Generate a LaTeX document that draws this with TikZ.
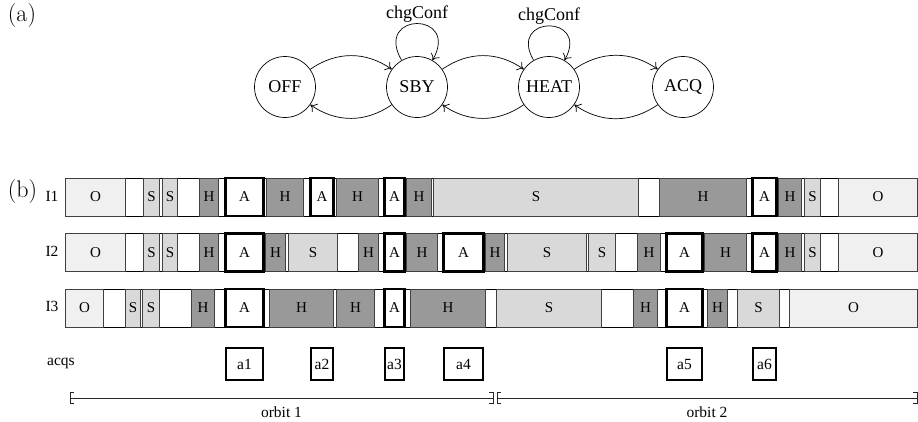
\documentclass[tikz,border=0pt]{standalone}
\usepackage{fontspec}
\newfontfamily\tms{Liberation Serif}
\usetikzlibrary{arrows.meta}

\definecolor{offfill}{gray}{0.94}
\definecolor{sbyfill}{gray}{0.85}
\definecolor{heatfill}{gray}{0.60}
\definecolor{edgegray}{gray}{0.25}

\tikzset{
  state/.style={circle, draw, line width=0.7pt, minimum size=61pt, inner sep=0pt,
    font=\tms\fontsize{18}{20}\selectfont},
  trans/.style={-{To[length=6pt,width=10pt]}, line width=0.7pt},
  looplabel/.style={font=\tms\fontsize{18}{20}\selectfont, inner sep=1pt},
  partlabel/.style={font=\fontsize{24}{26}\selectfont, inner sep=0pt},
  smalltext/.style={font=\tms\fontsize{15.5}{17}\selectfont, inner sep=1pt},
  rowbox/.style={draw=black, fill=white, line width=0.8pt, minimum width=851pt,
    minimum height=38pt, inner sep=0pt},
  segbase/.style={draw=edgegray, line width=0.8pt, inner sep=0.5pt, minimum height=38pt,
    font=\tms\fontsize{15}{17}\selectfont},
  segO/.style={segbase, fill=offfill},
  segS/.style={segbase, fill=sbyfill},
  segH/.style={segbase, fill=heatfill},
  segA/.style={segbase, fill=white, draw=black, line width=2.2pt},
  orbitline/.style={line width=0.8pt, draw=black!85},
}

% one instrument timeline: background bar plus its mode segments
\newcommand\segrow[3]{%
  \node[rowbox] (#1) at (491.5,#2) {};
  \foreach \a/\b/\t [count=\i] in {#3} {
    \pgfmathsetmacro\w{\b-\a}
    \node[seg\t, minimum width=\w pt, text width=\w pt, align=center] (#1-\i) at ({(\a+\b)/2},#2) {\t};
  }
}

\begin{document}
\begin{tikzpicture}[x=1pt,y=-1pt]
\useasboundingbox (0,0) rectangle (918,421);

% (a) mode automaton
\node[partlabel] (pa) at (22,16) {(a)};
\node[state] (off)  at (285,87) {OFF};
\node[state] (sby)  at (417,87) {SBY};
\node[state] (heat) at (549,87) {HEAT};
\node[state] (acq)  at (683,87) {ACQ};

\draw[trans] (off)  to[bend left=35] (sby);
\draw[trans] (sby)  to[bend left=35] (off);
\draw[trans] (sby)  to[bend left=35] (heat);
\draw[trans] (heat) to[bend left=35] (sby);
\draw[trans] (heat) to[bend left=35] (acq);
\draw[trans] (acq)  to[bend left=35] (heat);
\draw[trans] (sby)  to[out=120,in=60,looseness=4.7] node[looplabel, above] {chgConf} (sby);
\draw[trans] (heat) to[out=120,in=60,looseness=4.4] node[looplabel, above] {chgConf} (heat);

% (b) timelines
\node[partlabel] (pb) at (22.5,192) {(b)};
\node[smalltext] (l1) at (52,196) {I1};
\node[smalltext] (l2) at (52,251) {I2};
\node[smalltext] (l3) at (52,306) {I3};

\segrow{ra}{197}{66/125/O, 144/159/S, 163/177/S, 200/218/H, 226/263/A, 267/303/H,
  311/333/A, 337/378/H, 385/404/A, 407/431/H, 434/638/S, 660/746/H, 753/776/A,
  779/801/H, 805/820/S, 839/917/O}
\segrow{rb}{252.5}{66/125/O, 144/159/S, 163/177/S, 200/218/H, 226/263/A, 266/285/H,
  289/337/S, 359/378/H, 385/404/A, 407/437/H, 444/483/A, 486/504/H, 508/586/S,
  589/615/S, 638/660/H, 667/702/A, 705/746/H, 753/776/A, 779/801/H, 805/820/S,
  839/917/O}
\segrow{rc}{308}{66/103/O, 126/140/S, 143/159/S, 192/214/H, 226/263/A, 270/333/H,
  337/374/H, 385/404/A, 411/485/H, 497/601/S, 634/657/H, 667/702/A, 708/727/H,
  738/779/S, 790/917/O}

% acquisitions
\node[smalltext] (acqs) at (61,363) {acqs};
\foreach \a/\b/\n in {226/263/1, 311/333/2, 385/404/3, 444/483/4, 667/702/5, 753/776/6} {
  \pgfmathsetmacro\w{\b-\a}
  \node[segA, minimum width=\w pt, minimum height=32pt, inner sep=0pt,
        font=\tms\fontsize{15.5}{17}\selectfont]
    (acq\n) at ({(\a+\b)/2},364) {a\n};
}

% orbits
\coordinate (o1a) at (70,398);
\coordinate (o1b) at (493,398);
\coordinate (o2a) at (497,398);
\coordinate (o2b) at (917,398);
\draw[orbitline] (o1a) -- (o1b);
\draw[orbitline] (o2a) -- (o2b);
\draw[orbitline] (o1a) ++(4,-5.5) -- ++(-4,0) -- ++(0,11) -- ++(4,0);
\draw[orbitline] (o1b) ++(-4,-5.5) -- ++(4,0) -- ++(0,11) -- ++(-4,0);
\draw[orbitline] (o2a) ++(4,-5.5) -- ++(-4,0) -- ++(0,11) -- ++(4,0);
\draw[orbitline] (o2b) ++(-4,-5.5) -- ++(4,0) -- ++(0,11) -- ++(-4,0);
\node[smalltext] (orb1) at (281.5,412) {orbit 1};
\node[smalltext] (orb2) at (707,412) {orbit 2};
\end{tikzpicture}
\end{document}
